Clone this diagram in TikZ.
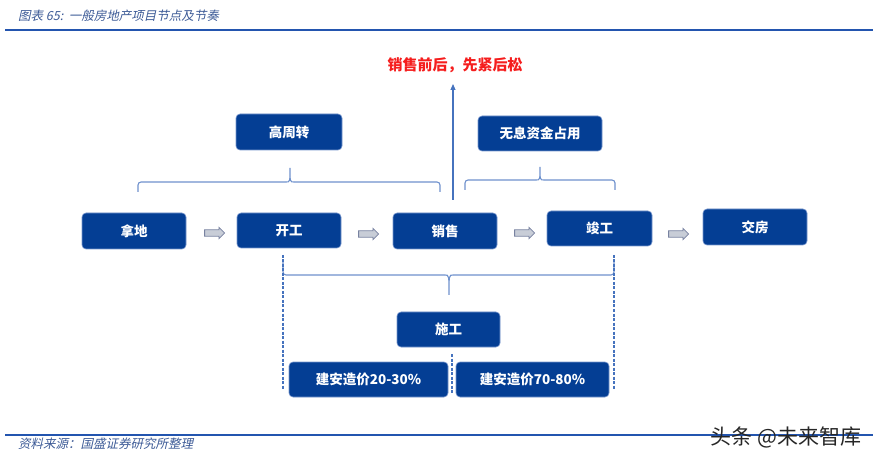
\documentclass[tikz,border=0pt]{standalone}
\usepackage{fontspec}
\setmainfont{Noto Sans CJK SC}
\newfontfamily\slantfont[FakeSlant=0.22]{Noto Sans CJK SC}
\usetikzlibrary{shapes.arrows,arrows.meta}
\definecolor{boxblue}{RGB}{4,62,148}
\definecolor{edgeblue}{RGB}{120,150,205}
\definecolor{bracecol}{RGB}{110,145,205}
\definecolor{dashcol}{RGB}{70,115,190}
\definecolor{rulecol}{RGB}{35,85,175}
\definecolor{titlecol}{RGB}{60,90,150}
\definecolor{redtext}{RGB}{245,30,30}
\definecolor{arrfill}{RGB}{200,205,215}
\definecolor{arrdraw}{RGB}{120,130,160}
\tikzset{
  stagebox/.style={draw=edgeblue, line width=0.6pt, fill=boxblue, rounded corners=4pt,
    text=white, font=\bfseries\fontsize{13.5}{15}\selectfont, inner sep=0pt},
  hollowarrow/.style={single arrow, draw=arrdraw, fill=arrfill, line width=0.8pt,
    minimum height=20pt, minimum width=11pt, single arrow head extend=2.5pt,
    inner xsep=0pt, inner ysep=2.8pt},
  bracket/.style={draw=bracecol, line width=1.1pt},
  dashline/.style={draw=dashcol, line width=1.7pt, dash pattern=on 3pt off 1.5pt},
  rule/.style={draw=rulecol, line width=2pt}
}
\begin{document}
\begin{tikzpicture}[x=1pt,y=-1pt]
\useasboundingbox (0,0) rectangle (878,462);
% title and rules
\node[anchor=west, text=titlecol, font=\slantfont\fontsize{12.5}{14}\selectfont, inner sep=0pt] (title) at (18,16) {图表 65:\ \ 一般房地产项目节点及节奏};
\coordinate (r1a) at (5,30); \coordinate (r1b) at (873,30);
\draw[rule] (r1a) -- (r1b);
\coordinate (r2a) at (5,435); \coordinate (r2b) at (873,435);
\draw[rule] (r2a) -- (r2b);
\node[anchor=west, text=titlecol, font=\slantfont\fontsize{12.5}{14}\selectfont, inner sep=0pt] (source) at (18,444) {资料来源：国盛证券研究所整理};
\node[text=black!85, font=\fontsize{21}{24}\selectfont, inner sep=0pt] (mark) at (786,437) {头条 @未来智库};

% red note
\node[text=redtext, font=\bfseries\fontsize{15}{17}\selectfont, inner sep=0pt] (note) at (455,65) {销售前后，先紧后松};

% main row
\node[stagebox, minimum width=104pt, minimum height=36pt] (nadi) at (134,231) {拿地};
\node[stagebox, minimum width=104pt, minimum height=35pt] (kaigong) at (289,230.5) {开工};
\node[stagebox, minimum width=104pt, minimum height=36pt] (xiaoshou) at (445,231) {销售};
\node[stagebox, minimum width=105pt, minimum height=35pt] (jungong) at (599.5,228.5) {竣工};
\node[stagebox, minimum width=104pt, minimum height=36pt] (jiaofang) at (755,227) {交房};

\node[hollowarrow] (a1) at (213,233) {};
\node[hollowarrow] (a2) at (367,234) {};
\node[hollowarrow] (a3) at (523,233) {};
\node[hollowarrow] (a4) at (677,234) {};

% upper boxes
\node[stagebox, minimum width=106pt, minimum height=36pt] (gzz) at (289,132) {高周转};
\node[stagebox, minimum width=124pt, minimum height=35pt] (wxzj) at (540,133.5) {无息资金占用};

% lower boxes
\node[stagebox, minimum width=103pt, minimum height=35pt] (shigong) at (448.5,329.5) {施工};
\node[stagebox, minimum width=159pt, minimum height=35pt] (jaa) at (368.5,379.5) {建安造价20-30\%};
\node[stagebox, minimum width=153pt, minimum height=35pt] (jab) at (532.5,379.5) {建安造价70-80\%};

% up arrow
\coordinate (upstart) at (453,200);
\coordinate (upend) at (453,84);
\draw[draw=dashcol, line width=1.1pt, -{Triangle[length=6pt,width=5pt]}] (upstart) -- (upend);

% brace over 拿地-销售
\coordinate (b1l) at (138,192); \coordinate (b1r) at (440,192); \coordinate (b1t) at (290,168);
\draw[bracket, rounded corners=3pt] (b1l) -- (138,182) -- (286,182);
\draw[bracket] (286,182) .. controls (290,182) .. (b1t) .. controls (290,182) .. (294,182);
\draw[bracket, rounded corners=3pt] (294,182) -- (440,182) -- (b1r);

% brace over 销售-竣工
\coordinate (b2l) at (465,190); \coordinate (b2r) at (615,190); \coordinate (b2t) at (540,167);
\draw[bracket, rounded corners=3pt] (b2l) -- (465,180) -- (536,180);
\draw[bracket] (536,180) .. controls (540,180) .. (b2t) .. controls (540,180) .. (544,180);
\draw[bracket, rounded corners=3pt] (544,180) -- (615,180) -- (b2r);

% brace below 开工-竣工
\coordinate (b3l) at (283,262); \coordinate (b3r) at (614,262); \coordinate (b3t) at (449,295);
\draw[bracket, rounded corners=3pt] (b3l) -- (283,275) -- (445,275);
\draw[bracket] (445,275) .. controls (449,275) .. (b3t) .. controls (449,275) .. (453,275);
\draw[bracket, rounded corners=3pt] (453,275) -- (614,275) -- (b3r);

% dashed lines
\coordinate (d1a) at (283,255); \coordinate (d1b) at (283,390);
\coordinate (d2a) at (614,255); \coordinate (d2b) at (614,390);
\coordinate (d3a) at (452,354); \coordinate (d3b) at (452,394);
\draw[dashline] (d1a) -- (d1b);
\draw[dashline] (d2a) -- (d2b);
\draw[dashline] (d3a) -- (d3b);
\end{tikzpicture}
\end{document}
